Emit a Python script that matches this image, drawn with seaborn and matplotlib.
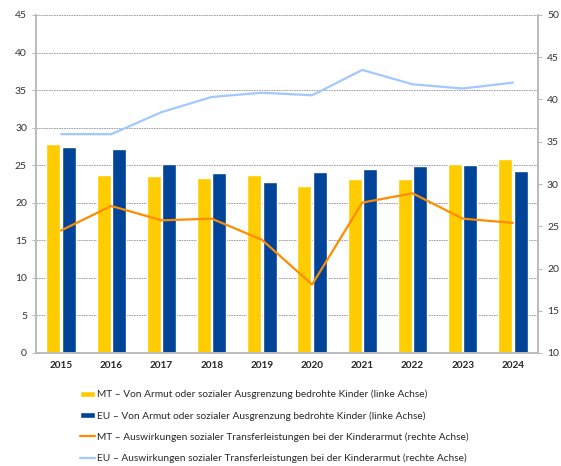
import numpy as np
import pandas as pd
import matplotlib.pyplot as plt
import seaborn as sns
from matplotlib.patches import Patch
from matplotlib.lines import Line2D

# Daten
years = [str(y) for y in range(2015, 2025)]
mt_risk = [27.8, 23.7, 23.6, 23.3, 23.7, 22.3, 23.2, 23.1, 25.2, 25.8]
eu_risk = [27.4, 27.1, 25.1, 23.9, 22.8, 24.1, 24.5, 24.9, 25.0, 24.2]
mt_transfer = [24.5, 27.4, 25.7, 25.9, 23.4, 18.1, 27.8, 28.9, 25.9, 25.4]
eu_transfer = [35.9, 35.9, 38.5, 40.3, 40.8, 40.5, 43.5, 41.8, 41.3, 42.0]

labels = [
    "MT – Von Armut oder sozialer Ausgrenzung bedrohte Kinder (linke Achse)",
    "EU – Von Armut oder sozialer Ausgrenzung bedrohte Kinder (linke Achse)",
    "MT – Auswirkungen sozialer Transferleistungen bei der Kinderarmut (rechte Achse)",
    "EU – Auswirkungen sozialer Transferleistungen bei der Kinderarmut (rechte Achse)",
]
colors = ["#FFCC00", "#00449A", "#FF8C00", "#A3C8FF"]

df = pd.DataFrame({
    "Jahr": years * 2,
    "Wert": mt_risk + eu_risk,
    "Reihe": ["MT"] * len(years) + ["EU"] * len(years),
})

sns.set_style("white")
plt.rcParams["font.family"] = ["Lato", "DejaVu Sans"]

fig, ax = plt.subplots(figsize=(5.61, 4.66), dpi=100)
fig.subplots_adjust(left=36 / 561, right=538 / 561, top=1 - 15 / 466, bottom=1 - 353 / 466)

sns.barplot(data=df, x="Jahr", y="Wert", hue="Reihe", palette=colors[:2],
            saturation=1, width=0.62, gap=0.1, ax=ax, legend=False, zorder=2)
ax.set_ylim(0, 45)
ax.set_yticks(range(0, 46, 5))
ax.set_xlim(-0.5, len(years) - 0.5)
ax.grid(axis="y", linestyle=(0, (2, 1)), color="#909090", linewidth=0.6, zorder=0)
ax.set_axisbelow(True)
ax.set_xlabel("")
ax.set_ylabel("")

ax2 = ax.twinx()
x = np.arange(len(years))
sns.lineplot(x=x, y=mt_transfer, color=colors[2], linewidth=1.6, ax=ax2)
sns.lineplot(x=x, y=eu_transfer, color=colors[3], linewidth=1.6, ax=ax2)
ax2.set_ylim(10, 50)
ax2.set_yticks(range(10, 51, 5))
ax2.set_xlim(-0.5, len(years) - 0.5)

for a in (ax, ax2):
    a.spines["top"].set_visible(False)
    for s in ("left", "right", "bottom"):
        a.spines[s].set_color("#BBBBBB")
        a.spines[s].set_linewidth(1.2)
    a.tick_params(axis="y", labelsize=7.5, colors="#333333", length=3, color="#BBBBBB")

ax.tick_params(axis="x", which="major", length=0, labelsize=7.2, pad=6)
for t in ax.get_xticklabels():
    t.set_fontweight("bold")
ax.set_xticks(np.arange(len(years) + 1) - 0.5, minor=True)
ax.tick_params(axis="x", which="minor", length=4, color="#BBBBBB")

handles = [
    Patch(facecolor=colors[0]),
    Patch(facecolor=colors[1]),
    Line2D([], [], color=colors[2], linewidth=1.6),
    Line2D([], [], color=colors[3], linewidth=1.6),
]
fig.legend(handles, labels, loc="upper left", bbox_to_anchor=(0.135, 0.172),
           frameon=False, fontsize=7.3, handlelength=1.5, handleheight=0.65,
           handletextpad=0.2, labelspacing=1.15, borderaxespad=0)

fig.savefig("out.png", dpi=100)
